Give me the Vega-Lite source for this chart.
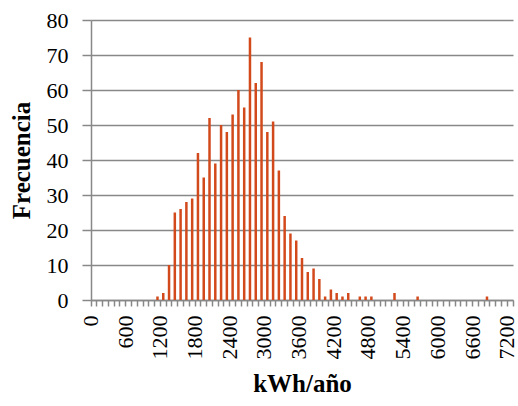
{
  "$schema": "https://vega.github.io/schema/vega-lite/v6.json",
  "width": 422,
  "height": 280,
  "autosize": {"type": "none"},
  "padding": {"left": 91, "top": 20, "right": 5, "bottom": 106},
  "background": "white",
  "config": {
    "view": {"stroke": null},
    "font": "Liberation Serif",
    "axis": {"labelFont": "Liberation Serif", "titleFont": "Liberation Serif"}
  },
  "data": {
    "values": [
      {"kwh": 0, "freq": 0}, {"kwh": 100, "freq": 0}, {"kwh": 200, "freq": 0}, {"kwh": 300, "freq": 0},
      {"kwh": 400, "freq": 0}, {"kwh": 500, "freq": 0}, {"kwh": 600, "freq": 0}, {"kwh": 700, "freq": 0},
      {"kwh": 800, "freq": 0}, {"kwh": 900, "freq": 0}, {"kwh": 1000, "freq": 0}, {"kwh": 1100, "freq": 1},
      {"kwh": 1200, "freq": 2}, {"kwh": 1300, "freq": 10}, {"kwh": 1400, "freq": 25}, {"kwh": 1500, "freq": 26},
      {"kwh": 1600, "freq": 28}, {"kwh": 1700, "freq": 29}, {"kwh": 1800, "freq": 42}, {"kwh": 1900, "freq": 35},
      {"kwh": 2000, "freq": 52}, {"kwh": 2100, "freq": 39}, {"kwh": 2200, "freq": 50}, {"kwh": 2300, "freq": 48},
      {"kwh": 2400, "freq": 53}, {"kwh": 2500, "freq": 60}, {"kwh": 2600, "freq": 55}, {"kwh": 2700, "freq": 75},
      {"kwh": 2800, "freq": 62}, {"kwh": 2900, "freq": 68}, {"kwh": 3000, "freq": 48}, {"kwh": 3100, "freq": 51},
      {"kwh": 3200, "freq": 37}, {"kwh": 3300, "freq": 24}, {"kwh": 3400, "freq": 19}, {"kwh": 3500, "freq": 17},
      {"kwh": 3600, "freq": 12}, {"kwh": 3700, "freq": 8}, {"kwh": 3800, "freq": 9}, {"kwh": 3900, "freq": 6},
      {"kwh": 4000, "freq": 1}, {"kwh": 4100, "freq": 3}, {"kwh": 4200, "freq": 2}, {"kwh": 4300, "freq": 1},
      {"kwh": 4400, "freq": 2}, {"kwh": 4500, "freq": 0}, {"kwh": 4600, "freq": 1}, {"kwh": 4700, "freq": 1},
      {"kwh": 4800, "freq": 1}, {"kwh": 4900, "freq": 0}, {"kwh": 5000, "freq": 0}, {"kwh": 5100, "freq": 0},
      {"kwh": 5200, "freq": 2}, {"kwh": 5300, "freq": 0}, {"kwh": 5400, "freq": 0}, {"kwh": 5500, "freq": 0},
      {"kwh": 5600, "freq": 1}, {"kwh": 5700, "freq": 0}, {"kwh": 5800, "freq": 0}, {"kwh": 5900, "freq": 0},
      {"kwh": 6000, "freq": 0}, {"kwh": 6100, "freq": 0}, {"kwh": 6200, "freq": 0}, {"kwh": 6300, "freq": 0},
      {"kwh": 6400, "freq": 0}, {"kwh": 6500, "freq": 0}, {"kwh": 6600, "freq": 0}, {"kwh": 6700, "freq": 0},
      {"kwh": 6800, "freq": 1}, {"kwh": 6900, "freq": 0}, {"kwh": 7000, "freq": 0}, {"kwh": 7100, "freq": 0},
      {"kwh": 7200, "freq": 0}
    ]
  },
  "mark": {"type": "bar", "color": "#D24A1C", "size": 2.5},
  "encoding": {
    "x": {
      "field": "kwh",
      "type": "ordinal",
      "sort": "ascending",
      "scale": {"paddingInner": 0, "paddingOuter": 0},
      "axis": {
        "title": "kWh/año",
        "titleFont": "Liberation Serif",
        "titleFontSize": 25,
        "titleFontWeight": "bold",
        "titleColor": "black",
        "titleX": 211,
        "titleY": 83,
        "titleBaseline": "middle",
        "titleAlign": "center",
        "bandPosition": 1,
        "tickExtra": true,
        "tickSize": 6,
        "tickColor": "#888888",
        "tickWidth": 1.5,
        "domainColor": "#888888",
        "domainWidth": 1.5,
        "labelAngle": -90,
        "labelAlign": "right",
        "labelBaseline": "middle",
        "labelOffset": -2.9,
        "labelPadding": 9,
        "labelFont": "Liberation Serif",
        "labelFontSize": 22,
        "labelColor": "black",
        "labelOverlap": false,
        "labelExpr": "datum.value % 600 === 0 ? datum.label : ''",
        "grid": false
      }
    },
    "y": {
      "field": "freq",
      "type": "quantitative",
      "scale": {"domain": [0, 80], "nice": false},
      "axis": {
        "title": "Frecuencia",
        "titleFont": "Liberation Serif",
        "titleFontSize": 25,
        "titleFontWeight": "bold",
        "titleColor": "black",
        "titleAngle": -90,
        "titleX": -70,
        "titleY": 140,
        "titleBaseline": "middle",
        "titleAlign": "center",
        "values": [0, 10, 20, 30, 40, 50, 60, 70, 80],
        "tickSize": 9,
        "tickColor": "#888888",
        "tickWidth": 1.5,
        "domainColor": "#888888",
        "domainWidth": 1.5,
        "labelPadding": 14,
        "labelFont": "Liberation Serif",
        "labelFontSize": 22,
        "labelColor": "black",
        "grid": true,
        "gridColor": "#888888",
        "gridWidth": 1.5
      }
    }
  }
}
